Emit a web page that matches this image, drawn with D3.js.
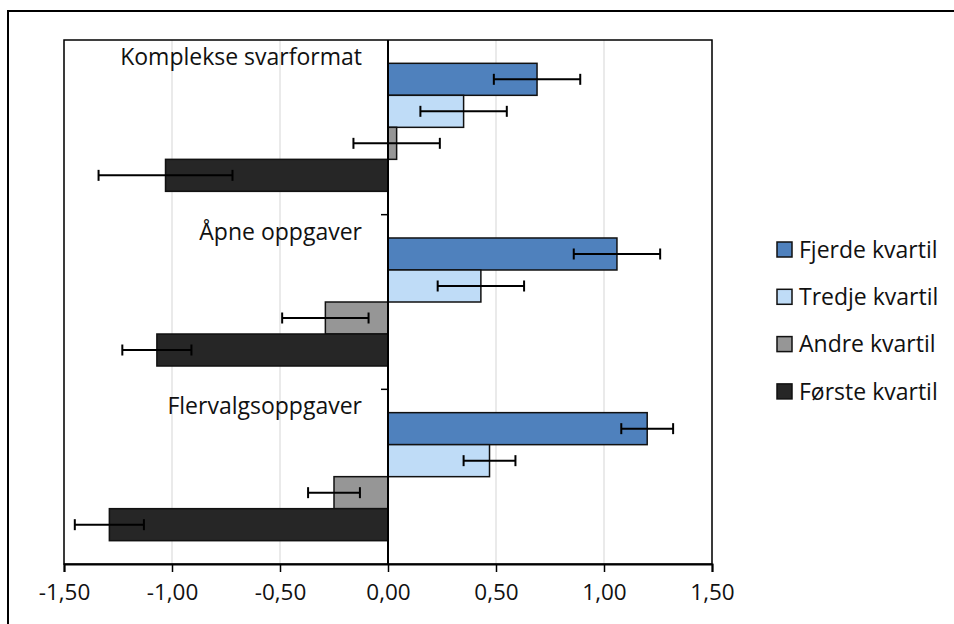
<!DOCTYPE html>
<html>
<head>
<meta charset="utf-8">
<script src="https://cdn.jsdelivr.net/npm/d3@7"></script>
<style>
  html, body { margin: 0; padding: 0; background: #fff; }
  svg { display: block; font-family: "Open Sans", Lato, sans-serif; }
</style>
</head>
<body>
<svg id="chart" width="954" height="624"></svg>
<script>
// Categories (top to bottom) and quartile series (top to bottom inside each group)
const categories = ["Komplekse svarformat", "Åpne oppgaver", "Flervalgsoppgaver"];
const seriesNames = ["Fjerde kvartil", "Tredje kvartil", "Andre kvartil", "Første kvartil"];
const seriesColors = ["#4f81bd", "#bfdcf7", "#969696", "#262626"];

// Mean values per series, one entry per category
const fjerde = [0.69, 1.06, 1.20];
const tredje = [0.35, 0.43, 0.47];
const andre  = [0.04, -0.29, -0.25];
const forste = [-1.03, -1.07, -1.29];

// Error margins (half-width of the error bar) per series and category
const fjerdeErr = [0.20, 0.20, 0.12];
const tredjeErr = [0.20, 0.20, 0.12];
const andreErr  = [0.20, 0.20, 0.12];
const forsteErr = [0.31, 0.16, 0.16];

const xTicks = [-1.5, -1.0, -0.5, 0, 0.5, 1.0, 1.5];

const seriesValues = [fjerde, tredje, andre, forste];
const seriesErrors = [fjerdeErr, tredjeErr, andreErr, forsteErr];

const rows = [];
categories.forEach((c, ci) => {
  seriesNames.forEach((s, si) => {
    rows.push({ category: c, series: s, si, value: seriesValues[si][ci], err: seriesErrors[si][ci] });
  });
});

const svg = d3.select("#chart");
const plot = { left: 64, right: 712, top: 40, bottom: 564 };
const labelSize = 23;
const tickSize = 22.5;

const x = d3.scaleLinear().domain([-1.5, 1.5]).range([plot.left, plot.right]);
const y = d3.scaleBand().domain(categories).range([plot.top, plot.bottom])
  .paddingInner(0.267).paddingOuter(0.1335);
const ySub = d3.scaleBand().domain(seriesNames).range([0, y.bandwidth()]);
const step = y.step();
const color = d3.scaleOrdinal().domain(seriesNames).range(seriesColors);

// Outer chart frame
svg.append("rect")
  .attr("x", 8).attr("y", 11).attr("width", 980).attr("height", 640)
  .attr("fill", "none").attr("stroke", "#000").attr("stroke-width", 2);

// Vertical gridlines
svg.append("g")
  .selectAll("line")
  .data(xTicks)
  .join("line")
  .attr("x1", d => x(d)).attr("x2", d => x(d))
  .attr("y1", plot.top).attr("y2", plot.bottom)
  .attr("stroke", "#e3e3e3").attr("stroke-width", 1.5);

// Bars
const bars = svg.append("g");
bars.selectAll("rect")
  .data(rows)
  .join("rect")
  .attr("x", d => x(Math.min(0, d.value)))
  .attr("width", d => Math.abs(x(d.value) - x(0)))
  .attr("y", d => y(d.category) + ySub(d.series))
  .attr("height", ySub.bandwidth())
  .attr("fill", d => color(d.series))
  .attr("stroke", "#111").attr("stroke-width", 1.5);

// Error bars
const eb = svg.append("g").attr("stroke", "#000").attr("stroke-width", 2);
rows.forEach(d => {
  const cy = y(d.category) + ySub(d.series) + ySub.bandwidth() / 2;
  const x0 = x(d.value - d.err), x1 = x(d.value + d.err);
  eb.append("line").attr("x1", x0).attr("x2", x1).attr("y1", cy).attr("y2", cy);
  eb.append("line").attr("x1", x0).attr("x2", x0).attr("y1", cy - 5.5).attr("y2", cy + 5.5);
  eb.append("line").attr("x1", x1).attr("x2", x1).attr("y1", cy - 5.5).attr("y2", cy + 5.5);
});

// Plot area frame
svg.append("rect")
  .attr("x", plot.left).attr("y", plot.top)
  .attr("width", plot.right - plot.left).attr("height", plot.bottom - plot.top)
  .attr("fill", "none").attr("stroke", "#000").attr("stroke-width", 1.5);

// Category axis at zero, with tick marks between groups
const catBounds = categories.slice(1).map(c => y(c) - y.paddingInner() * step / 2);
const yAxis = svg.append("g");
yAxis.append("line")
  .attr("x1", x(0)).attr("x2", x(0)).attr("y1", plot.top).attr("y2", plot.bottom)
  .attr("stroke", "#000").attr("stroke-width", 2);
yAxis.selectAll(".cat-tick")
  .data(catBounds)
  .join("line")
  .attr("class", "cat-tick")
  .attr("x1", x(0) - 7).attr("x2", x(0))
  .attr("y1", d => d).attr("y2", d => d)
  .attr("stroke", "#000").attr("stroke-width", 1.5);

// Category labels, right-aligned left of the zero axis at the top of each group
svg.append("g")
  .selectAll("text")
  .data(categories)
  .join("text")
  .attr("x", x(0) - 26)
  .attr("y", d => y(d) - y.paddingOuter() * step + 25)
  .attr("text-anchor", "end")
  .attr("font-size", labelSize)
  .attr("fill", "#111")
  .text(d => d);

// Value axis at the bottom
const xAxis = svg.append("g").attr("transform", `translate(0,${plot.bottom})`)
  .call(d3.axisBottom(x).tickValues(xTicks).tickSize(8).tickPadding(12)
    .tickFormat(d => d3.format(".2f")(d).replace(".", ",").replace("−", "-")));
xAxis.select(".domain").attr("stroke", "#000").attr("stroke-width", 2);
xAxis.selectAll(".tick line").attr("stroke", "#000").attr("stroke-width", 1.5);
xAxis.selectAll(".tick text")
  .attr("font-size", tickSize).attr("fill", "#111")
  .attr("font-family", "'Open Sans', Lato, sans-serif");

// Legend
const legend = svg.append("g").attr("transform", "translate(777,242)");
const li = legend.selectAll("g")
  .data(seriesNames)
  .join("g")
  .attr("transform", (d, i) => `translate(0,${i * 47.3})`);
li.append("rect")
  .attr("width", 15).attr("height", 15)
  .attr("fill", d => color(d))
  .attr("stroke", "#111").attr("stroke-width", 1.5);
li.append("text")
  .attr("x", 22).attr("y", 7.5).attr("dy", "0.36em")
  .attr("font-size", labelSize).attr("fill", "#111")
  .text(d => d);
</script>
</body>
</html>
